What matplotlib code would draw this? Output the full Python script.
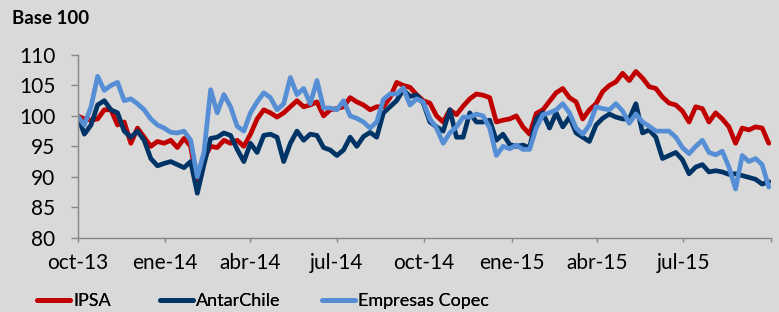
import matplotlib
matplotlib.use("Agg")
import matplotlib.pyplot as plt
import pandas as pd

plt.rcParams['font.family'] = ['Lato', 'DejaVu Sans']

# Weekly observations starting 2013-10-01
start_date = "2013-10-01"
n_weeks = 105

ipsa = [100, 99.5, 99.3, 99.5, 101, 101, 98.5, 99, 95.5, 98,
        96.5, 95, 95.8, 95.5, 96, 94.8, 96.3, 95, 88.5, 93,
        95, 94.8, 96, 95.5, 96, 95, 97, 99.5, 101, 100.5,
        99.8, 100.5, 101.5, 102.5, 101.5, 101.8, 102.3, 100, 101, 101.2,
        101.5, 103, 102.3, 101.8, 101, 101.5, 101.5, 103, 105.5, 105,
        104.7, 103.5, 102.5, 102.1, 100, 99, 101, 100.2, 101.6, 102.8,
        103.6, 103.4, 103, 99, 99.3, 99.5, 100, 98.2, 97, 100.4,
        101, 102.4, 103.8, 104.5, 103, 102.3, 99.5, 101, 102, 104,
        105, 105.6, 107, 105.8, 107.3, 106.2, 104.8, 104.5, 103.1, 102.1,
        101.8, 100.8, 99, 101.5, 101.2, 99, 100.5, 99.5, 98.2, 95.5,
        98, 97.7, 98.2, 98, 95.5]

antarchile = [100, 97, 98.5, 101.8, 102.5, 101, 100.5, 97.5, 96.5, 97.5,
              96, 93, 91.8, 92.2, 92.5, 92, 91.5, 92.5, 87.3, 92,
              96.3, 96.5, 97.2, 96.8, 94.5, 92.5, 95.5, 94, 96.8, 97,
              96.5, 92.5, 95.5, 97.5, 96, 97, 96.8, 94.8, 94.4, 93.5,
              94.4, 96.5, 95, 96.6, 97.3, 96.5, 100.5, 101.5, 102.5, 104.3,
              103.2, 103.4, 102.1, 99, 98.2, 97.5, 101, 96.5, 96.5, 100.5,
              99, 99, 99.3, 96, 97, 95.3, 95, 95.2, 94.8, 99.5,
              100.5, 98, 100.5, 98.2, 99.8, 97.2, 96.5, 95.8, 98.5, 99.6,
              100.3, 99.8, 99.5, 99.5, 102, 97.2, 97.7, 96.5, 93, 93.5,
              94, 92.8, 90.5, 91.6, 92, 90.8, 91, 90.8, 90.4, 90.5,
              90.2, 89.9, 89.6, 88.8, 89.2]

copec = [100, 98.5, 101.5, 106.5, 104.2, 105, 105.5, 102.5, 102.8, 102,
         101, 99.5, 98.5, 98, 97.3, 97.2, 97.5, 96, 90, 94,
         104.3, 100.5, 103.5, 101.5, 98.3, 97.5, 100.5, 102.3, 103.8, 103,
         101, 102, 106.3, 103.5, 104.5, 102, 105.8, 101.3, 101.3, 101,
         102.5, 100, 99.6, 99, 98, 99, 102.7, 103.6, 103.6, 104.6,
         101.8, 102.8, 102.3, 99.5, 98, 95.5, 97.2, 98.2, 99.8, 99.8,
         100.3, 100, 98, 93.5, 95, 94.6, 95.2, 94.5, 94.5, 98,
         100.2, 100.5, 101, 102, 100.5, 98, 97, 98.5, 101.5, 101.2,
         101, 102, 100.8, 98.8, 100.3, 99, 98.3, 97.5, 97.5, 97.5,
         96.5, 94.8, 93.8, 95, 96, 94, 93.6, 94.2, 91.6, 88,
         93.5, 92.5, 93, 92, 88.3]

series_names = ["IPSA", "AntarChile", "Empresas Copec"]
series_colors = ["#C00000", "#003366", "#558ED5"]

tick_dates = ["2013-10-01", "2014-01-01", "2014-04-01", "2014-07-01", "2014-10-01",
              "2015-01-01", "2015-04-01", "2015-07-01", "2015-10-01"]
tick_labels = ["oct-13", "ene-14", "abr-14", "jul-14", "oct-14",
               "ene-15", "abr-15", "jul-15", ""]
y_ticks = [80, 85, 90, 95, 100, 105, 110]

dates = pd.date_range(start_date, periods=n_weeks, freq="7D")

W, H = 779, 312
bg = "#D9D9D9"
fig = plt.figure(figsize=(W / 100, H / 100), dpi=100, facecolor=bg)
ax = fig.add_axes([77.7 / W, 1 - 237.7 / H, 693 / W, 182.7 / H], facecolor=bg)

lines = []
for vals, name, col in zip([ipsa, antarchile, copec], series_names, series_colors):
    ln, = ax.plot(dates, vals, color=col, lw=3.4, label=name, solid_joinstyle="round",
                  solid_capstyle="round")
    lines.append(ln)

ax.set_ylim(80, 110)
ax.set_yticks(y_ticks)
ax.set_xlim(pd.Timestamp(tick_dates[0]), pd.Timestamp(tick_dates[-1]))
ax.set_xticks([pd.Timestamp(d) for d in tick_dates])
ax.set_xticklabels(tick_labels)

for s in ["top", "right"]:
    ax.spines[s].set_visible(False)
for s in ["left", "bottom"]:
    ax.spines[s].set_color("#868686")
    ax.spines[s].set_linewidth(1.0)

ax.tick_params(axis="y", direction="out", length=5, width=1, color="#868686",
               pad=11, labelsize=15, labelcolor="black")
ax.tick_params(axis="x", direction="out", length=3, width=1, color="#868686",
               pad=8, labelsize=15, labelcolor="black")

fig.text(12 / W, 1 - 18 / H, "Base 100", fontsize=13.5, fontweight="bold",
         ha="left", va="center")

# legend entries placed individually (handle left edges as in the reference)
handle_x = [37, 160, 322]
for ln, hx in zip(lines, handle_x):
    leg = fig.legend([ln], [ln.get_label()], loc="center left",
                     bbox_to_anchor=(hx / W, 1 - 301 / H), frameon=False,
                     fontsize=13, handlelength=1.8, handletextpad=0.2,
                     borderaxespad=0, borderpad=0)
    for l in leg.get_lines():
        l.set_linewidth(3.4)
    fig.add_artist(leg)

fig.savefig("out.png", dpi=100, facecolor=bg)
